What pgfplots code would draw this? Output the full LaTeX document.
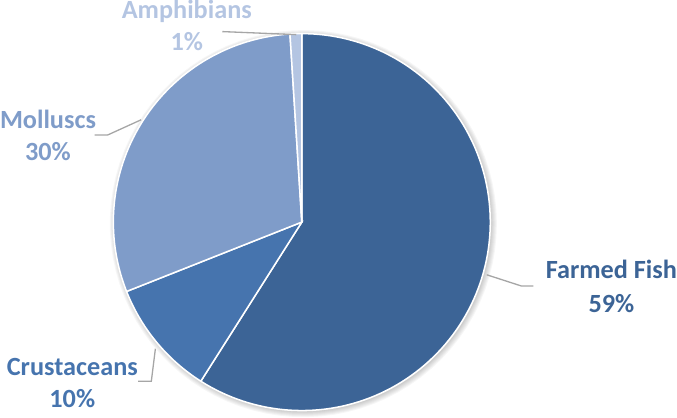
\documentclass[border=0pt]{standalone}
\usepackage{pgfplots}
\pgfplotsset{compat=1.18}
\usepackage{fontspec}
\setmainfont{Carlito}
\definecolor{cFish}{HTML}{3C6496}
\definecolor{cCrus}{HTML}{4674AE}
\definecolor{cMoll}{HTML}{7F9CC9}
\definecolor{cAmph}{HTML}{B4C5E2}
\definecolor{cLine}{HTML}{A6A6A6}
% data (percent)
\def\vFish{59}
\def\vCrus{10}
\def\vMoll{30}
\def\vAmph{1}
\pgfmathsetmacro\aA{90}
\pgfmathsetmacro\aB{\aA-3.6*\vFish}
\pgfmathsetmacro\aC{\aB-3.6*\vCrus}
\pgfmathsetmacro\aD{\aC-3.6*\vMoll}
\pgfmathsetmacro\aE{\aD-3.6*\vAmph}
\def\cx{301.5}
\def\cy{224}
\def\rr{186}
\begin{document}
\begin{tikzpicture}
\begin{axis}[
  width=677bp, height=416bp, scale only axis,
  xmin=0, xmax=677, ymin=0, ymax=416, y dir=reverse,
  hide axis, clip=false,
  every axis plot/.append style={line width=1.5bp, draw=white, samples=120, variable=\t},
]
% soft shadow
\pgfplotsinvokeforeach{1,2,3,4,5,6}{
\addplot[draw=none, fill=black, fill opacity=0.035, domain=0:360, samples=90] ({\cx+1.5+(\rr-1+#1)*cos(\t)},{\cy+1.5-(\rr-1+#1)*sin(\t)}) -- cycle;
}
\addplot[fill=cFish, domain=\aB:\aA] ({\cx+\rr*cos(\t)},{\cy-\rr*sin(\t)}) -- (axis cs:\cx,\cy) -- cycle;
\addplot[fill=cCrus, domain=\aC:\aB] ({\cx+\rr*cos(\t)},{\cy-\rr*sin(\t)}) -- (axis cs:\cx,\cy) -- cycle;
\addplot[fill=cMoll, domain=\aD:\aC] ({\cx+\rr*cos(\t)},{\cy-\rr*sin(\t)}) -- (axis cs:\cx,\cy) -- cycle;
\addplot[fill=cAmph, domain=\aE:\aD, samples=10] ({\cx+\rr*cos(\t)},{\cy-\rr*sin(\t)}) -- (axis cs:\cx,\cy) -- cycle;
% leader lines
\draw[cLine, line width=1.3bp] (axis cs:530,287) -- (axis cs:518,287) -- (axis cs:484,276);
\draw[cLine, line width=1.3bp] (axis cs:140,381) -- (axis cs:153,381) -- (axis cs:157,349);
\draw[cLine, line width=1.3bp] (axis cs:97,138) -- (axis cs:110,138) -- (axis cs:143,123);
\draw[cLine, line width=1.3bp] (axis cs:223,36) -- (axis cs:296,39);
% labels
\begin{scope}[every node/.style={anchor=base, inner sep=0pt, font=\fontsize{26}{30}\selectfont\bfseries}]
\node[text=cFish] at (axis cs:607,280) {Farmed Fish};
\node[text=cFish] at (axis cs:607,313) {59\%};
\node[text=cCrus] at (axis cs:75,375) {Crustaceans};
\node[text=cCrus] at (axis cs:75,407) {10\%};
\node[text=cMoll] at (axis cs:51,132) {Molluscs};
\node[text=cMoll] at (axis cs:51,163) {30\%};
\node[text=cAmph] at (axis cs:188,23) {Amphibians};
\node[text=cAmph] at (axis cs:188,55) {1\%};
\end{scope}
\end{axis}
\end{tikzpicture}
\end{document}
